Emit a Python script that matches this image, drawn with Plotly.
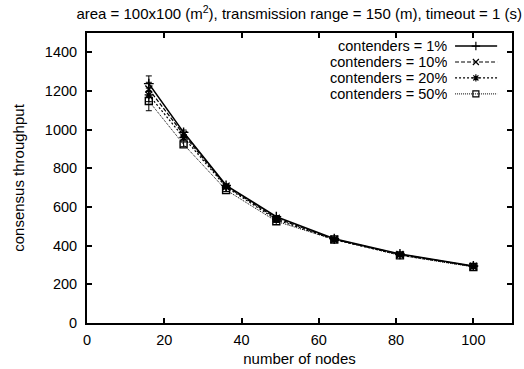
import plotly.graph_objects as go

# number of nodes (grid sizes 4x4 ... 10x10)
nodes = [16, 25, 36, 49, 64, 81, 100]

series_names = ["contenders = 1%", "contenders = 10%", "contenders = 20%", "contenders = 50%"]
thr_1 = [1238, 986, 712, 550, 436, 357, 295]
thr_10 = [1210, 975, 708, 542, 433, 355, 293]
thr_20 = [1180, 960, 703, 535, 431, 352, 292]
thr_50 = [1148, 924, 688, 526, 432, 350, 290]
err_1 = [40, 12, 8, 6, 5, 4, 3]
err_10 = [35, 12, 8, 6, 5, 4, 3]
err_20 = [35, 12, 8, 6, 5, 4, 3]
err_50 = [50, 12, 8, 6, 5, 4, 3]

values = [thr_1, thr_10, thr_20, thr_50]
errors = [err_1, err_10, err_20, err_50]
dashes = ["solid", "4px,2px", "2px,2px", "1px,1px"]
symbols = ["cross-thin-open", "x-thin-open", "asterisk-open", "square-open"]
widths = [1.6, 1.2, 1.2, 1.0]

FONT = "Liberation Sans, Arial, Helvetica, sans-serif"
FS_TICK = 14.5
FS_TEXT = 15
FS_KEY = 14.5

fig = go.Figure()
for name, y, e, d, s, w in zip(series_names, values, errors, dashes, symbols, widths):
    fig.add_trace(go.Scatter(
        x=nodes, y=y, name=name, mode="lines+markers",
        line=dict(color="black", width=w, dash=d),
        marker=dict(symbol=s, size=7, color="black", line=dict(color="black", width=1.4)),
        error_y=dict(type="data", array=e, color="black", thickness=1, width=3),
        showlegend=False,
    ))

# key drawn in the top-right corner: right-aligned labels with line samples
key_y = [0.955, 0.900, 0.845, 0.790]
for name, ky, d, s, w in zip(series_names, key_y, dashes, symbols, widths):
    fig.add_trace(go.Scatter(
        x=[0.866, 0.965], y=[ky, ky], mode="lines", xaxis="x2", yaxis="y2",
        line=dict(color="black", width=w, dash=d), showlegend=False, hoverinfo="skip",
    ))
    fig.add_trace(go.Scatter(
        x=[0.915], y=[ky], mode="markers", xaxis="x2", yaxis="y2",
        marker=dict(symbol=s, size=6, color="black", line=dict(color="black", width=1.2)),
        showlegend=False, hoverinfo="skip",
    ))
    fig.add_annotation(
        x=0.849, y=ky, xref="x2", yref="y2", text=name, showarrow=False,
        xanchor="right", yanchor="middle", height=14, borderpad=0,
        font=dict(family=FONT, size=FS_KEY, color="black"),
    )

axis_common = dict(
    showgrid=False, zeroline=False, showline=True, linecolor="black", linewidth=2,
    mirror="ticks", ticks="inside", ticklen=5, tickwidth=1.5, tickcolor="black",
    tickfont=dict(family=FONT, size=FS_TICK, color="black"), automargin=False,
)

fig.update_layout(
    width=524, height=369,
    margin=dict(l=87, r=12, t=33, b=46),
    paper_bgcolor="white", plot_bgcolor="white",
    title=dict(
        text="area = 100x100 (m<sup>2</sup>), transmission range = 150 (m), timeout = 1 (s)",
        x=0.571, xanchor="center", y=0.962, yanchor="middle",
        font=dict(family=FONT, size=FS_TEXT, color="black"),
    ),
    xaxis=dict(range=[0, 110], tickvals=[0, 20, 40, 60, 80, 100], ticklabelstandoff=3,
               title=dict(text="number of nodes", standoff=6,
                          font=dict(family=FONT, size=FS_TEXT, color="black")),
               **axis_common),
    yaxis=dict(range=[0, 1500], tickvals=[0, 200, 400, 600, 800, 1000, 1200, 1400],
               ticklabelstandoff=5,
               title=dict(text="consensus throughput", standoff=17,
                          font=dict(family=FONT, size=FS_TEXT, color="black")),
               **axis_common),
    xaxis2=dict(range=[0, 1], overlaying="x", visible=False, fixedrange=True),
    yaxis2=dict(range=[0, 1], overlaying="y", visible=False, fixedrange=True),
)

fig.write_html("out.html")
